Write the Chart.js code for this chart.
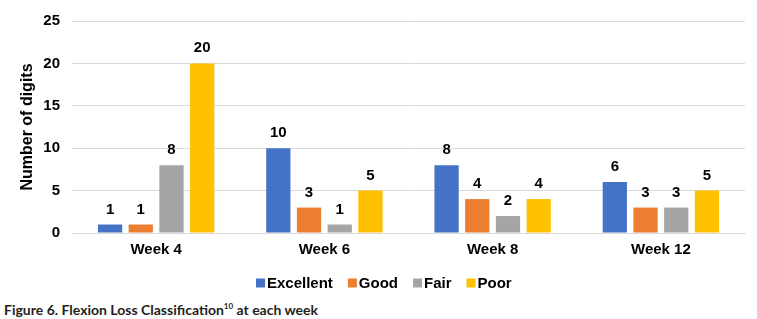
<!DOCTYPE html>
<html>
<head>
<meta charset="utf-8">
<script src="https://cdn.jsdelivr.net/npm/chart.js@4.4.1/dist/chart.umd.min.js"></script>
<style>
  body { margin: 0; background: #fff; width: 757px; height: 319px; overflow: hidden; position: relative; }
  #box { position: absolute; left: 0; top: 0; width: 757px; height: 298px; }
  #caption { position: absolute; left: 4px; top: 301px; font-family: Lato, "Open Sans", sans-serif; font-weight: bold; font-size: 14px; color: #231f20; white-space: nowrap; }
  #caption sup { font-size: 8px; vertical-align: 6px; line-height: 0; }
</style>
</head>
<body>
<div id="box"><canvas id="chart"></canvas></div>
<div id="caption">Figure 6. Flexion Loss Classification<sup>10</sup> at each week</div>
<script>
// chart data
var weeks = ["Week 4", "Week 6", "Week 8", "Week 12"];
var excellent = [1, 10, 8, 6];
var good = [1, 3, 4, 3];
var fair = [8, 1, 2, 3];
var poor = [20, 5, 4, 5];
var yTicks = [0, 5, 10, 15, 20, 25];

var seriesNames = ["Excellent", "Good", "Fair", "Poor"];
var seriesColors = ["#4472C4", "#ED7D31", "#A5A5A5", "#FFC000"];
var seriesData = [excellent, good, fair, poor];

var fontFam = '"Liberation Sans", Arial, sans-serif';

/* draw value above each bar */
var valueLabels = {
  id: "valueLabels",
  afterDatasetsDraw: function (chart) {
    var ctx = chart.ctx;
    ctx.save();
    ctx.font = "bold 15px " + fontFam;
    ctx.fillStyle = "#000";
    ctx.textAlign = "center";
    ctx.textBaseline = "alphabetic";
    chart.data.datasets.forEach(function (ds, i) {
      var meta = chart.getDatasetMeta(i);
      meta.data.forEach(function (bar, j) {
        ctx.fillText(ds.data[j], bar.x, bar.y - 11);
      });
    });
    ctx.restore();
  }
};

/* legend like the Excel one: small square, tight gap */
var bottomLegend = {
  id: "bottomLegend",
  afterDraw: function (chart) {
    var ctx = chart.ctx;
    var box = 9, gap = 2, spacing = 15;
    ctx.save();
    ctx.font = "bold 15px " + fontFam;
    ctx.textBaseline = "middle";
    ctx.textAlign = "left";
    var x = 256;
    var y = 283;
    chart.data.datasets.forEach(function (ds) {
      ctx.fillStyle = ds.backgroundColor;
      ctx.fillRect(x, y - box / 2, box, box);
      x += box + gap;
      ctx.fillStyle = "#000";
      ctx.fillText(ds.label, x, y + 1);
      x += ctx.measureText(ds.label).width + spacing;
    });
    ctx.restore();
  }
};

var datasets = [];
for (var i = 0; i < seriesNames.length; i++) {
  datasets.push({
    label: seriesNames[i],
    data: seriesData[i],
    backgroundColor: seriesColors[i],
    barPercentage: 0.79,
    categoryPercentage: 0.73
  });
}

var ctx0 = document.getElementById("chart");
var myChart = new Chart(ctx0, {
  type: "bar",
  data: { labels: weeks, datasets: datasets },
  plugins: [valueLabels, bottomLegend],
  options: {
    responsive: true,
    maintainAspectRatio: false,
    animation: false,
    layout: { padding: { left: 18, right: 12, top: 5, bottom: 39 } },
    plugins: {
      legend: { display: false },
      tooltip: { enabled: false }
    },
    scales: {
      x: {
        grid: { display: false },
        border: { color: "#d9d9d9" },
        ticks: { color: "#000", padding: 0, font: { family: fontFam, size: 15, weight: "bold" } }
      },
      y: {
        min: 0,
        max: 25,
        afterBuildTicks: function (axis) {
          axis.ticks = yTicks.map(function (v) { return { value: v }; });
        },
        afterFit: function (axis) { axis.width = 54; },
        grid: { color: "#d9d9d9", drawTicks: false },
        border: { display: false },
        ticks: { color: "#000", padding: 12, font: { family: fontFam, size: 15, weight: "bold" } },
        title: {
          display: true,
          text: "Number of digits",
          color: "#000",
          padding: 0,
          font: { family: fontFam, size: 16, weight: "bold" }
        }
      }
    }
  }
});
</script>
</body>
</html>
